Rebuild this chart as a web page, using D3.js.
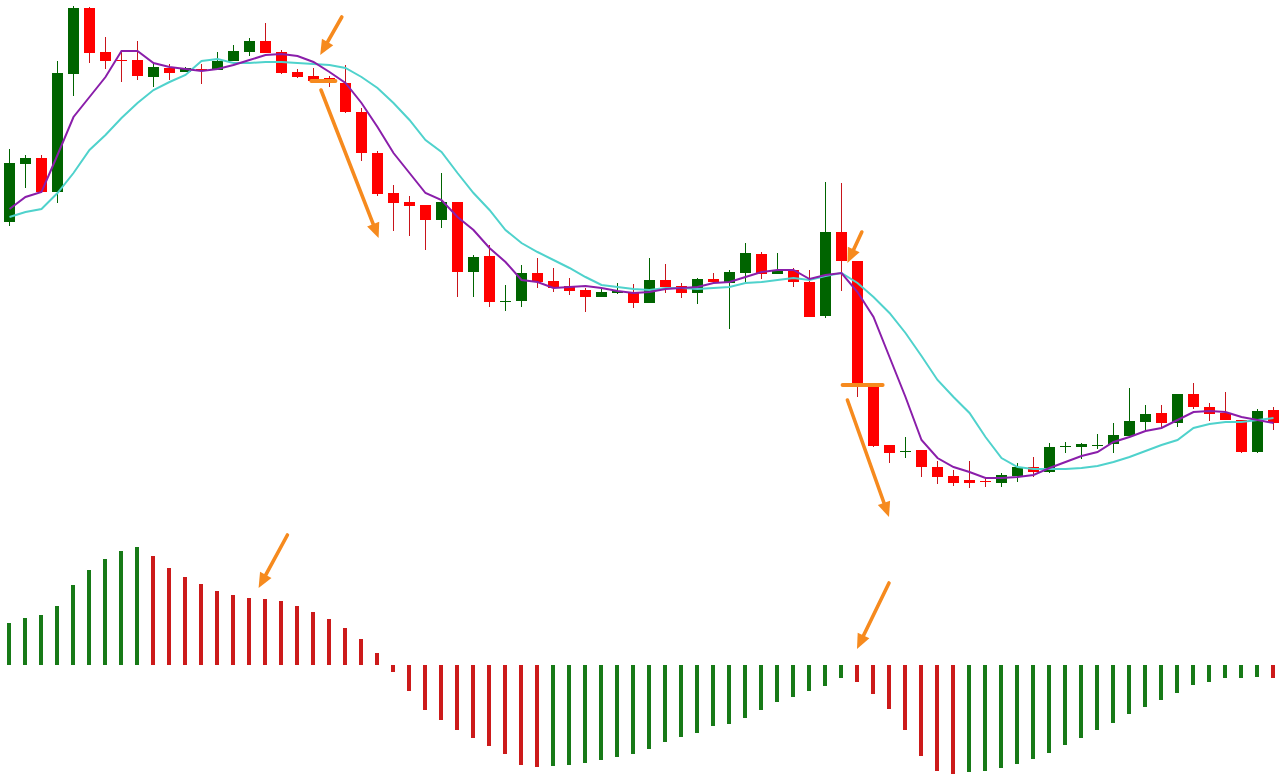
<!DOCTYPE html>
<html>
<head>
<meta charset="utf-8">
<script src="https://cdn.jsdelivr.net/npm/d3@7"></script>
<style>
  html, body { margin: 0; padding: 0; background: #ffffff; }
  svg { display: block; }
</style>
</head>
<body>
<svg id="chart" width="1281" height="784"></svg>
<script>
// ---------- DATA ----------
const openP = [1.0298,1.0356,1.0362,1.0328,1.0446,1.0512,1.0468,1.0460,1.0460,1.0443,
  1.0452,1.0448,1.0451,1.0450,1.0459,1.0468,1.0479,1.0468,1.0448,1.0444,
  1.0442,1.0437,1.0408,1.0367,1.0327,1.0318,1.0315,1.0300,1.0318,1.0248,
  1.0264,1.0218,1.0219,1.0247,1.0239,1.0234,1.0230,1.0223,1.0227,1.0228,
  1.0217,1.0240,1.0234,1.0227,1.0241,1.0237,1.0247,1.0266,1.0246,1.0250,
  1.0238,1.0204,1.0288,1.0259,1.0133,1.0075,1.0068,1.0070,1.0053,1.0044,
  1.0040,1.0039,1.0037,1.0044,1.0053,1.0048,1.0073,1.0073,1.0074,1.0076,
  1.0084,1.0098,1.0107,1.0097,1.0126,1.0113,1.0107,1.0100,1.0068,1.0110];
const closeP = [1.0357,1.0362,1.0328,1.0447,1.0512,1.0467,1.0459,1.0459,1.0444,1.0453,
  1.0447,1.0452,1.0450,1.0459,1.0469,1.0479,1.0467,1.0447,1.0443,1.0439,
  1.0438,1.0408,1.0367,1.0326,1.0317,1.0314,1.0300,1.0318,1.0248,1.0263,
  1.0218,1.0219,1.0247,1.0238,1.0232,1.0229,1.0223,1.0228,1.0229,1.0217,
  1.0240,1.0233,1.0227,1.0241,1.0238,1.0248,1.0267,1.0246,1.0250,1.0238,
  1.0203,1.0288,1.0259,1.0135,1.0074,1.0067,1.0069,1.0053,1.0043,1.0037,
  1.0037,1.0038,1.0045,1.0053,1.0048,1.0073,1.0074,1.0076,1.0075,1.0085,
  1.0099,1.0106,1.0097,1.0126,1.0113,1.0106,1.0100,1.0068,1.0109,1.0097];
const highP = [1.0371,1.0365,1.0365,1.0459,1.0514,1.0513,1.0483,1.0470,1.0479,1.0456,
  1.0456,1.0453,1.0456,1.0468,1.0475,1.0482,1.0497,1.0470,1.0451,1.0452,
  1.0444,1.0455,1.0412,1.0369,1.0335,1.0324,1.0315,1.0347,1.0318,1.0265,
  1.0275,1.0235,1.0255,1.0262,1.0252,1.0242,1.0232,1.0233,1.0237,1.0236,
  1.0262,1.0256,1.0237,1.0242,1.0247,1.0250,1.0277,1.0268,1.0267,1.0252,
  1.0250,1.0338,1.0337,1.0259,1.0133,1.0075,1.0083,1.0070,1.0059,1.0050,
  1.0059,1.0043,1.0047,1.0057,1.0063,1.0077,1.0078,1.0077,1.0086,1.0097,
  1.0132,1.0115,1.0115,1.0126,1.0137,1.0117,1.0128,1.0100,1.0111,1.0113];
const lowP = [1.0294,1.0332,1.0328,1.0317,1.0424,1.0457,1.0451,1.0438,1.0440,1.0433,
  1.0440,1.0448,1.0436,1.0450,1.0459,1.0464,1.0467,1.0446,1.0442,1.0439,
  1.0433,1.0407,1.0359,1.0324,1.0289,1.0284,1.0270,1.0292,1.0223,1.0223,
  1.0213,1.0209,1.0213,1.0232,1.0228,1.0225,1.0208,1.0223,1.0226,1.0212,
  1.0217,1.0227,1.0222,1.0216,1.0238,1.0191,1.0237,1.0241,1.0246,1.0233,
  1.0203,1.0202,1.0229,1.0123,1.0073,1.0057,1.0062,1.0043,1.0036,1.0034,
  1.0032,1.0033,1.0033,1.0038,1.0043,1.0047,1.0067,1.0061,1.0071,1.0067,
  1.0084,1.0089,1.0093,1.0093,1.0111,1.0099,1.0100,1.0067,1.0067,1.0090];

// fast moving average (purple)
const maFast = [1.0311,1.0323,1.0328,1.0365,1.0403,1.0423,1.0443,1.0469,1.0469,1.0457,
  1.0453,1.0451,1.0449,1.0451,1.0455,1.0460,1.0465,1.0466,1.0464,1.0458,
  1.0448,1.0437,1.0417,1.0393,1.0367,1.0347,1.0327,1.0320,1.0303,1.0290,
  1.0272,1.0258,1.0240,1.0238,1.0232,1.0233,1.0234,1.0232,1.0229,1.0227,
  1.0228,1.0231,1.0232,1.0233,1.0237,1.0238,1.0243,1.0248,1.0250,1.0250,
  1.0241,1.0245,1.0247,1.0228,1.0203,1.0163,1.0123,1.0080,1.0062,1.0053,
  1.0048,1.0042,1.0042,1.0043,1.0045,1.0052,1.0058,1.0064,1.0068,1.0078,
  1.0083,1.0089,1.0092,1.0100,1.0108,1.0109,1.0108,1.0103,1.0100,1.0097];
// slow moving average (turquoise)
const maSlow = [1.0303,1.0308,1.0311,1.0327,1.0347,1.0370,1.0385,1.0402,1.0417,1.0430,
  1.0438,1.0445,1.0459,1.0461,1.0457,1.0457,1.0458,1.0458,1.0457,1.0456,
  1.0455,1.0452,1.0443,1.0432,1.0417,1.0400,1.0380,1.0368,1.0347,1.0327,
  1.0310,1.0290,1.0277,1.0268,1.0260,1.0252,1.0243,1.0235,1.0233,1.0231,
  1.0230,1.0232,1.0232,1.0231,1.0232,1.0233,1.0237,1.0238,1.0240,1.0242,
  1.0240,1.0244,1.0247,1.0237,1.0223,1.0207,1.0187,1.0164,1.0140,1.0123,
  1.0107,1.0083,1.0062,1.0053,1.0051,1.0051,1.0051,1.0052,1.0054,1.0058,
  1.0063,1.0069,1.0075,1.0080,1.0092,1.0096,1.0098,1.0098,1.0100,1.0102];

// histogram oscillator
const histValues = [0.0042,0.0047,0.0050,0.0059,0.0080,0.0095,0.0106,0.0114,0.0118,0.0109,
  0.0097,0.0088,0.0081,0.0074,0.0070,0.0067,0.0066,0.0064,0.0059,0.0053,
  0.0046,0.0037,0.0026,0.0012,-0.0007,-0.0026,-0.0045,-0.0055,-0.0065,-0.0073,
  -0.0081,-0.0089,-0.0100,-0.0102,-0.0101,-0.0100,-0.0098,-0.0095,-0.0092,-0.0089,
  -0.0084,-0.0077,-0.0072,-0.0068,-0.0061,-0.0059,-0.0053,-0.0045,-0.0037,-0.0032,
  -0.0026,-0.0021,-0.0013,-0.0017,-0.0029,-0.0044,-0.0065,-0.0091,-0.0106,-0.0109,
  -0.0107,-0.0106,-0.0103,-0.0099,-0.0094,-0.0088,-0.0080,-0.0073,-0.0065,-0.0058,
  -0.0049,-0.0042,-0.0035,-0.0028,-0.0020,-0.0017,-0.0013,-0.0013,-0.0012,-0.0013];

// annotation arrows on price panel: [fromIndex, fromPrice, toIndex, toPrice]
const priceArrows = [[20.8,1.0503,19.45,1.0465],[19.5,1.0430,23.1,1.0282],[53.3,1.0288,52.4,1.0257],[52.4,1.0120,55.0,1.0003]];
// annotation level marks: [fromIndex, toIndex, price]
const priceLevels = [[18.9,20.4,1.0439],[52.1,54.6,1.0135]];
// annotation arrows on histogram: [fromIndex, fromValue, toIndex, toValue]
const histArrows = [[17.4,0.0130,15.6,0.0077],[55.0,0.0082,53.0,0.0016]];

// ---------- SCALES ----------
const W = 1281, H = 784;
const svg = d3.select('#chart');
const n = openP.length;
const x = d3.scaleLinear().domain([0, n - 1]).range([9, 9 + 16 * (n - 1)]);
const y = d3.scaleLinear().domain([1.0000, 1.0520]).range([520, 0]);
const yh = d3.scaleLinear().domain([-0.0120, 0.0120]).range([785, 545]);

const GREEN = '#006400', RED = '#ff0000', RED_WICK = '#c8141a';
const H_GREEN = '#177a17', H_RED = '#cc1a1a';
const ORANGE = '#f68a1e';

const candles = d3.range(n).map(i => ({i, o: openP[i], h: highP[i], l: lowP[i], c: closeP[i]}));

// ---------- CANDLES ----------
const gC = svg.append('g');
gC.selectAll('line.wick').data(candles).join('line')
  .attr('x1', d => Math.round(x(d.i)) + 0.5).attr('x2', d => Math.round(x(d.i)) + 0.5)
  .attr('y1', d => y(d.h)).attr('y2', d => y(d.l))
  .attr('stroke', d => d.c >= d.o ? GREEN : RED_WICK).attr('stroke-width', 1);
gC.selectAll('rect.body').data(candles).join('rect')
  .attr('x', d => Math.round(x(d.i)) - 5).attr('width', 11)
  .attr('y', d => Math.round(y(Math.max(d.o, d.c))))
  .attr('height', d => Math.max(1, Math.round(Math.abs(y(d.o) - y(d.c)))))
  .attr('fill', d => d.c >= d.o ? GREEN : RED);

// ---------- MOVING AVERAGES ----------
const line = d3.line().x((d, i) => x(i) + 0.5).y(d => y(d));
svg.append('path').datum(maSlow).attr('d', line)
  .attr('fill', 'none').attr('stroke', '#4fd2cc').attr('stroke-width', 2);
svg.append('path').datum(maFast).attr('d', line)
  .attr('fill', 'none').attr('stroke', '#8a1eaa').attr('stroke-width', 2);

// ---------- HISTOGRAM ----------
svg.append('g').selectAll('rect').data(histValues).join('rect')
  .attr('x', (d, i) => Math.round(x(i)) - 2).attr('width', 4)
  .attr('y', d => Math.round(yh(Math.max(0, d))))
  .attr('height', d => Math.max(1, Math.round(Math.abs(yh(d) - yh(0)))))
  .attr('fill', (d, i) => (i === 0 || d >= histValues[i - 1]) ? H_GREEN : H_RED);

// ---------- ANNOTATIONS ----------
const gA = svg.append('g');
function arrow(x1, y1, x2, y2) {
  const dx = x2 - x1, dy = y2 - y1, len = Math.hypot(dx, dy);
  const ux = dx / len, uy = dy / len;
  const headL = 15, headW = 6.5;
  const bx = x2 - ux * headL, by = y2 - uy * headL;
  gA.append('line').attr('x1', x1).attr('y1', y1).attr('x2', bx + ux * 2).attr('y2', by + uy * 2)
    .attr('stroke', ORANGE).attr('stroke-width', 3.6).attr('stroke-linecap', 'round');
  gA.append('polygon')
    .attr('points', [[x2, y2], [bx - uy * headW, by + ux * headW], [bx + uy * headW, by - ux * headW]].map(p => p.join(',')).join(' '))
    .attr('fill', ORANGE);
}
priceArrows.forEach(a => arrow(x(a[0]), y(a[1]), x(a[2]), y(a[3])));
histArrows.forEach(a => arrow(x(a[0]), yh(a[1]), x(a[2]), yh(a[3])));
priceLevels.forEach(l => {
  gA.append('line').attr('x1', x(l[0])).attr('x2', x(l[1])).attr('y1', y(l[2])).attr('y2', y(l[2]))
    .attr('stroke', ORANGE).attr('stroke-width', 4).attr('stroke-linecap', 'round');
});
</script>
</body>
</html>
